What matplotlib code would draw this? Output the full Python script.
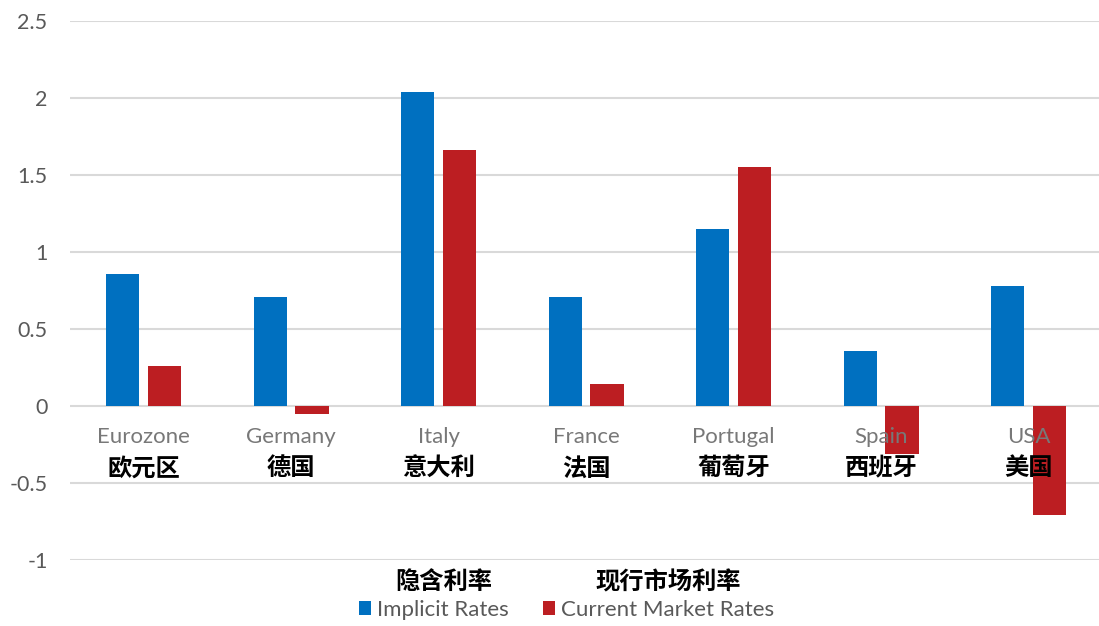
import numpy as np
import matplotlib.pyplot as plt

plt.rcParams['font.family'] = ['Lato', 'Noto Sans CJK SC', 'DejaVu Sans']

countries_en = ['Eurozone', 'Germany', 'Italy', 'France', 'Portugal', 'Spain', 'USA']
countries_cn = ['欧元区', '德国', '意大利', '法国', '葡萄牙', '西班牙', '美国']
implicit_rates = [0.86, 0.71, 2.04, 0.71, 1.15, 0.36, 0.78]
market_rates = [0.26, -0.05, 1.66, 0.14, 1.55, -0.31, -0.71]
series_en = ['Implicit Rates', 'Current Market Rates']
series_cn = ['隐含利率', '现行市场利率']
yticks = [-1, -0.5, 0, 0.5, 1, 1.5, 2, 2.5]

blue = '#0070C0'
red = '#BC1E22'
gray = '#595959'
cjk = ['Noto Sans CJK SC', 'DejaVu Sans']

fig = plt.figure(figsize=(10.99, 6.26), dpi=100)
ax = fig.add_axes([0.0635, 0.1054, 0.9395, 0.8611])

x = np.arange(len(countries_en))
w = 0.224
gap = 0.06
b1 = ax.bar(x - (w + gap) / 2, implicit_rates, w, color=blue, zorder=2, label=series_en[0])
b2 = ax.bar(x + (w + gap) / 2, market_rates, w, color=red, zorder=2, label=series_en[1])

ax.set_xlim(-0.5, len(countries_en) - 0.5)
ax.set_ylim(-1, 2.5)
ax.set_yticks(yticks)
ax.set_yticklabels(['{:g}'.format(t) for t in yticks])
ax.tick_params(axis='y', length=0, pad=16, labelsize=15.5, labelcolor=gray)
ax.set_xticks([])
ax.grid(axis='y', color='#D9D9D9', linewidth=1.5, zorder=0)
ax.set_axisbelow(True)
for s in ax.spines.values():
    s.set_visible(False)

# category names: English in gray, Chinese in bold black below
for i in x:
    ax.text(i, -0.2, countries_en[i], ha='center', va='center',
            fontsize=16, color='#787878', zorder=3)
    ax.text(i, -0.405, countries_cn[i], ha='center', va='center',
            fontsize=17.5, fontweight='bold', color='black', family=cjk, zorder=3)

leg = fig.legend(handles=[b1, b2], loc='center', bbox_to_anchor=(0.5155, 0.0256),
                 ncol=2, frameon=False, fontsize=16, handlelength=0.55, handleheight=0.55,
                 handletextpad=0.3, columnspacing=1.5, labelcolor=gray)

fig.canvas.draw()
r = fig.canvas.get_renderer()
for t, cn in zip(leg.get_texts(), series_cn):
    bb = t.get_window_extent(r)
    xc = (bb.x0 + bb.x1) / 2 / fig.bbox.width
    fig.text(xc, 44 / 626, cn, ha='center', va='center', fontsize=17.5,
             fontweight='bold', family=cjk)

fig.savefig('out.png', dpi=100)
